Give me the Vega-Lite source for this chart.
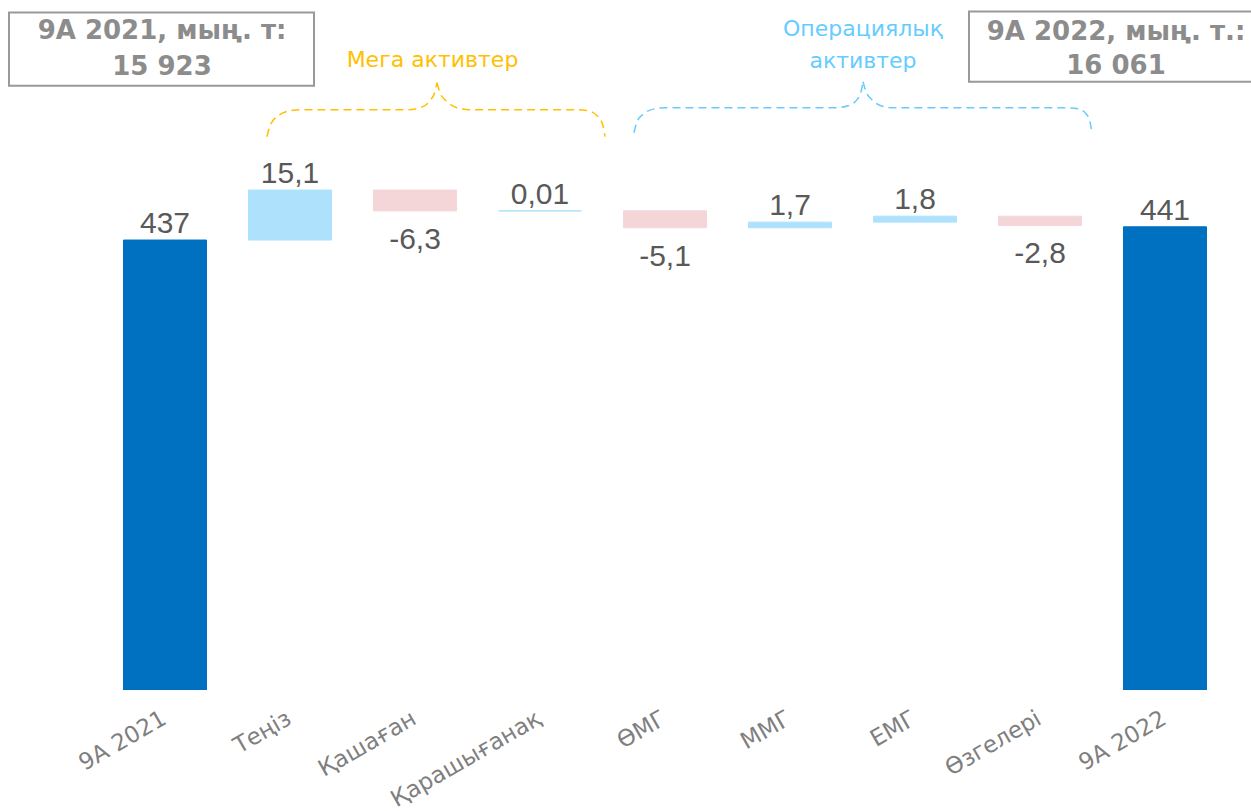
{
  "$schema": "https://vega.github.io/schema/vega-lite/v6.json",
  "width": 1251,
  "height": 690,
  "autosize": "none",
  "padding": {"left": 0, "top": 0, "right": 0, "bottom": 121},
  "background": "white",
  "config": {"view": {"stroke": null}},
  "datasets": {
    "bars": [
      {"i": 0, "cat": "9A 2021", "start": 0, "end": 437, "kind": "total", "label": "437"},
      {"i": 1, "cat": "Теңіз", "start": 437, "end": 452.1, "kind": "up", "label": "15,1"},
      {"i": 2, "cat": "Қашаған", "start": 452.1, "end": 445.8, "kind": "down", "label": "-6,3"},
      {"i": 3, "cat": "Қарашығанақ", "start": 445.8, "end": 445.81, "kind": "up", "label": "0,01"},
      {"i": 4, "cat": "ӨМГ", "start": 445.81, "end": 440.71, "kind": "down", "label": "-5,1"},
      {"i": 5, "cat": "ММГ", "start": 440.71, "end": 442.41, "kind": "up", "label": "1,7"},
      {"i": 6, "cat": "ЕМГ", "start": 442.41, "end": 444.21, "kind": "up", "label": "1,8"},
      {"i": 7, "cat": "Өзгелері", "start": 444.21, "end": 441.41, "kind": "down", "label": "-2,8"},
      {"i": 8, "cat": "9A 2022", "start": 0, "end": 441, "kind": "total", "label": "441"}
    ],
    "braces": [
      {"group": "mega", "part": "a", "x": 0.816, "y": 468.2},
      {"group": "mega", "part": "a", "x": 0.84, "y": 471.5},
      {"group": "mega", "part": "a", "x": 0.904, "y": 474.5},
      {"group": "mega", "part": "a", "x": 1.0, "y": 476.05},
      {"group": "mega", "part": "a", "x": 1.104, "y": 476.35},
      {"group": "mega", "part": "a", "x": 1.936, "y": 476.35},
      {"group": "mega", "part": "a", "x": 2.04, "y": 476.95},
      {"group": "mega", "part": "a", "x": 2.12, "y": 479.1},
      {"group": "mega", "part": "a", "x": 2.16, "y": 481.8},
      {"group": "mega", "part": "a", "x": 2.176, "y": 484.5},
      {"group": "mega", "part": "b", "x": 2.176, "y": 484.5},
      {"group": "mega", "part": "b", "x": 2.2, "y": 481.5},
      {"group": "mega", "part": "b", "x": 2.256, "y": 478.8},
      {"group": "mega", "part": "b", "x": 2.336, "y": 476.95},
      {"group": "mega", "part": "b", "x": 2.44, "y": 476.35},
      {"group": "mega", "part": "b", "x": 3.28, "y": 476.35},
      {"group": "mega", "part": "b", "x": 3.384, "y": 476.05},
      {"group": "mega", "part": "b", "x": 3.464, "y": 474.25},
      {"group": "mega", "part": "b", "x": 3.504, "y": 471.5},
      {"group": "mega", "part": "b", "x": 3.52, "y": 468.2},
      {"group": "oper", "part": "c", "x": 3.752, "y": 469.4},
      {"group": "oper", "part": "c", "x": 3.776, "y": 472.7},
      {"group": "oper", "part": "c", "x": 3.84, "y": 475.45},
      {"group": "oper", "part": "c", "x": 3.92, "y": 476.65},
      {"group": "oper", "part": "c", "x": 4.0, "y": 476.95},
      {"group": "oper", "part": "c", "x": 5.36, "y": 476.95},
      {"group": "oper", "part": "c", "x": 5.464, "y": 477.55},
      {"group": "oper", "part": "c", "x": 5.536, "y": 479.4},
      {"group": "oper", "part": "c", "x": 5.568, "y": 481.8},
      {"group": "oper", "part": "c", "x": 5.584, "y": 484.8},
      {"group": "oper", "part": "d", "x": 5.584, "y": 484.8},
      {"group": "oper", "part": "d", "x": 5.608, "y": 481.8},
      {"group": "oper", "part": "d", "x": 5.656, "y": 479.4},
      {"group": "oper", "part": "d", "x": 5.728, "y": 477.55},
      {"group": "oper", "part": "d", "x": 5.824, "y": 476.95},
      {"group": "oper", "part": "d", "x": 7.2, "y": 476.95},
      {"group": "oper", "part": "d", "x": 7.304, "y": 476.65},
      {"group": "oper", "part": "d", "x": 7.368, "y": 475.15},
      {"group": "oper", "part": "d", "x": 7.4, "y": 472.7},
      {"group": "oper", "part": "d", "x": 7.416, "y": 469.4}
    ]
  },
  "resolve": {"scale": {"color": "independent"}},
  "layer": [
    {
      "data": {"name": "bars"},
      "mark": {"type": "bar", "size": 83, "clip": true, "strokeWidth": 1},
      "encoding": {
        "x": {"field": "i", "type": "quantitative", "scale": {"domain": [-1.32, 8.688], "nice": false, "zero": false, "padding": 0}, "axis": null},
        "y": {"field": "end", "type": "quantitative", "scale": {"domain": [301.1, 509.5], "nice": false, "zero": false}, "axis": null},
        "y2": {"field": "start"},
        "color": {"field": "kind", "type": "nominal", "scale": {"domain": ["total", "up", "down"], "range": ["#0070C0", "#AEE2FC", "#F5D6D8"]}, "legend": null},
        "stroke": {"field": "kind", "type": "nominal", "scale": {"domain": ["total", "up", "down"], "range": ["#0070C0", "#AEE2FC", "#F5D6D8"]}, "legend": null}
      }
    },
    {
      "data": {"name": "bars"},
      "transform": [{"filter": "datum.kind != 'down'"}],
      "mark": {"type": "text", "font": "Liberation Sans", "fontSize": 30, "color": "#595959", "baseline": "alphabetic", "align": "center", "dy": -7},
      "encoding": {
        "x": {"field": "i", "type": "quantitative"},
        "y": {"field": "end", "type": "quantitative"},
        "text": {"field": "label"}
      }
    },
    {
      "data": {"name": "bars"},
      "transform": [{"filter": "datum.kind == 'down'"}],
      "mark": {"type": "text", "font": "Liberation Sans", "fontSize": 30, "color": "#595959", "baseline": "top", "align": "center", "dy": 14},
      "encoding": {
        "x": {"field": "i", "type": "quantitative"},
        "y": {"field": "end", "type": "quantitative"},
        "text": {"field": "label"}
      }
    },
    {
      "data": {"name": "bars"},
      "mark": {"type": "text", "font": "DejaVu Sans", "fontSize": 23, "color": "#7F7F7F", "angle": -30, "align": "right", "baseline": "top", "dx": -14, "dy": 12},
      "encoding": {
        "x": {"field": "i", "type": "quantitative"},
        "y": {"datum": 301.1},
        "text": {"field": "cat"}
      }
    },
    {
      "data": {"name": "braces"},
      "mark": {"type": "line", "interpolate": "monotone", "strokeDash": [8, 5], "strokeWidth": 1.5},
      "encoding": {
        "x": {"field": "x", "type": "quantitative"},
        "y": {"field": "y", "type": "quantitative"},
        "detail": {"field": "part"},
        "color": {"field": "group", "type": "nominal", "scale": {"domain": ["mega", "oper"], "range": ["#FFC000", "#66CCFF"]}, "legend": null}
      }
    },
    {
      "data": {"values": [{}]},
      "mark": {"type": "rect", "fill": "white", "stroke": "#999999", "strokeWidth": 2},
      "encoding": {
        "x": {"datum": -1.248},
        "x2": {"datum": 1.192},
        "y": {"datum": 505.7},
        "y2": {"datum": 483.6}
      }
    },
    {
      "data": {"values": [{}]},
      "mark": {"type": "rect", "fill": "white", "stroke": "#999999", "strokeWidth": 2},
      "encoding": {
        "x": {"datum": 6.432},
        "x2": {"datum": 8.776},
        "y": {"datum": 506.0},
        "y2": {"datum": 484.8}
      }
    },
    {
      "data": {"values": [{}]},
      "mark": {"type": "text", "text": ["9A 2021, мың. т:", "15 923"], "font": "DejaVu Sans", "fontWeight": "bold", "fontSize": 26, "color": "#8C8C8C", "align": "center", "baseline": "alphabetic", "lineHeight": 36},
      "encoding": {"x": {"datum": -0.024}, "y": {"datum": 497.82}}
    },
    {
      "data": {"values": [{}]},
      "mark": {"type": "text", "text": ["9A 2022, мың. т.:", "16 061"], "font": "DejaVu Sans", "fontWeight": "bold", "fontSize": 26, "color": "#8C8C8C", "align": "center", "baseline": "alphabetic", "lineHeight": 34},
      "encoding": {"x": {"datum": 7.608}, "y": {"datum": 497.52}}
    },
    {
      "data": {"values": [{}]},
      "mark": {"type": "text", "text": "Мега активтер", "font": "DejaVu Sans", "fontSize": 22, "color": "#FFC000", "align": "center", "baseline": "alphabetic"},
      "encoding": {"x": {"datum": 2.14}, "y": {"datum": 489.35}}
    },
    {
      "data": {"values": [{}]},
      "mark": {"type": "text", "text": ["Операциялық", "активтер"], "font": "DejaVu Sans", "fontSize": 22, "color": "#66CCFF", "align": "center", "baseline": "alphabetic", "lineHeight": 32},
      "encoding": {"x": {"datum": 5.584}, "y": {"datum": 498.73}}
    }
  ]
}
